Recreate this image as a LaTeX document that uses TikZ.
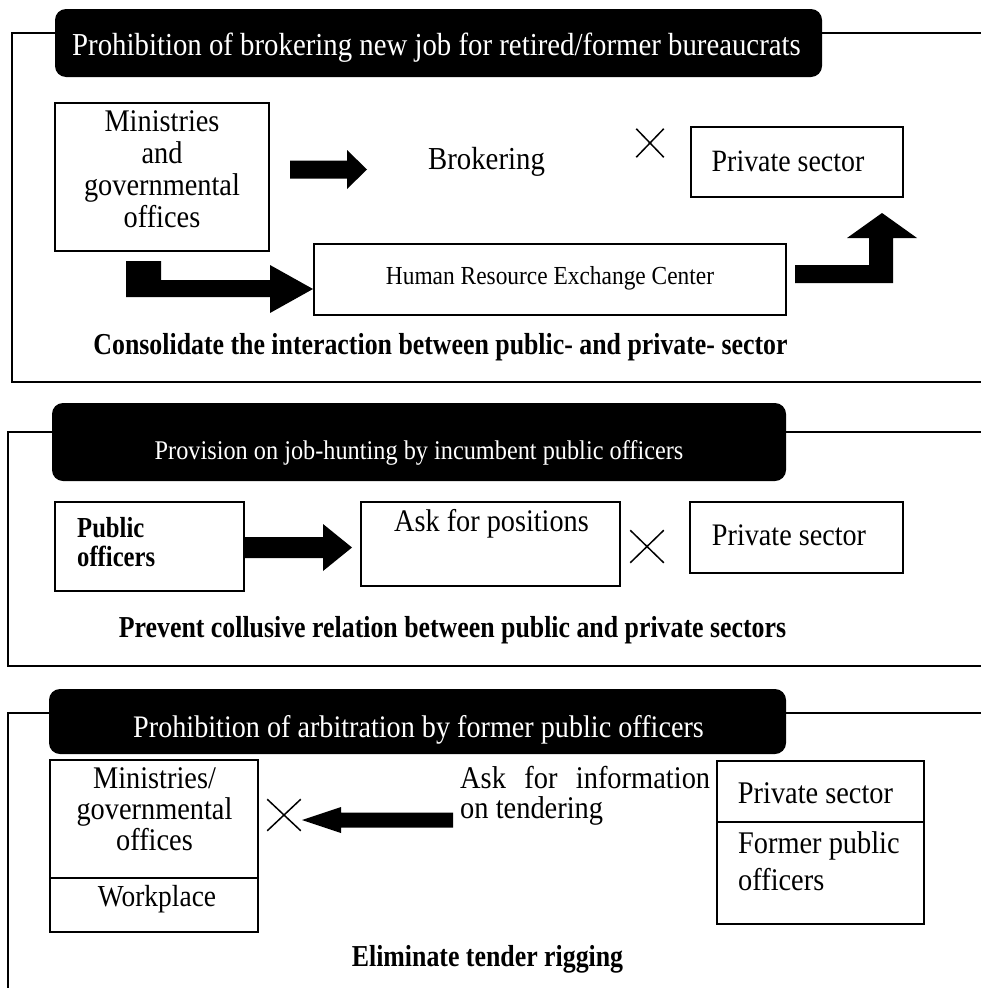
\documentclass[tikz,border=0pt]{standalone}
\usepackage{fontspec}
\setmainfont[FakeStretch=0.9,BoldFeatures={FakeStretch=0.85}]{Liberation Serif}
\usetikzlibrary{shapes.misc}
\newcommand{\setsz}[2]{\fontsize{#1}{#2}\selectfont}

\begin{document}
\begin{tikzpicture}[x=1pt,y=-1pt,
    frame/.style={line width=1.2pt},
    box/.style={draw,line width=1.4pt,inner sep=0pt},
    titlebox/.style={fill=black,rounded corners=11pt,inner sep=0pt},
    txt/.style={inner sep=0pt,anchor=base},
    mtxt/.style={inner sep=0pt,anchor=north},
    bold/.style={txt,font=\bfseries\setsz{30.4}{34}},
    blockarrow/.style={fill=black},
    nomark/.style={cross out,draw,line width=1.5pt,inner sep=0pt}]
  \useasboundingbox (0,0) rectangle (981,988);

  % frames round the three parts
  \draw[frame] (981,33) -| (12,382) -- (981,382);
  \draw[frame] (981,432) -| (8,666) -- (981,666);
  \draw[frame] (981,713) -| (8,988);

  % part 1
  \node[titlebox,minimum width=767pt,minimum height=68pt] (head1) at (438.5,43) {};
  \node[txt,text=white,font=\setsz{32}{38}] (head1t) at (436.5,55.6) {Prohibition of brokering new job for retired/former bureaucrats};
  \node[box,minimum width=214pt,minimum height=148pt] (min1) at (162,177) {};
  \node[mtxt,align=center,font=\setsz{31.5}{32}] (min1t) at (162,110.5) {Ministries\\and\\governmental\\offices};
  \fill[blockarrow] (290,160.5) -- (347,160.5) -- (347,150) -- (367,169.5) -- (347,189) -- (347,178.5) -- (290,178.5) -- cycle;
  \node[txt,font=\setsz{32}{38}] (brok) at (486.5,169.6) {Brokering};
  \node[nomark,minimum width=26pt,minimum height=27pt] (no1) at (650,143) {};
  \node[box,minimum width=212pt,minimum height=70pt] (priv1) at (797,162) {};
  \node[txt,font=\setsz{31}{36}] (priv1t) at (788,171.3) {Private sector};
  \fill[blockarrow] (126,261) -- (161,261) -- (161,280) -- (270,280) -- (270,265) -- (313,289) -- (270,313) -- (270,297) -- (126,297) -- cycle;
  \node[box,minimum width=472pt,minimum height=71pt] (hrec) at (550,279.5) {};
  \node[txt,font=\setsz{26}{30}] (hrect) at (550,284.6) {Human Resource Exchange Center};
  \fill[blockarrow] (795,265) -- (869,265) -- (869,238) -- (847,238) -- (882,213) -- (917,238) -- (893,238) -- (893,283) -- (795,283) -- cycle;
  \node[bold] (goal1) at (440.5,354.5) {Consolidate the interaction between public- and private- sector};

  % part 2
  \node[titlebox,minimum width=734pt,minimum height=78pt] (head2) at (419,442) {};
  \node[txt,text=white,font=\setsz{27}{32}] (head2t) at (419,459.9) {Provision on job-hunting by incumbent public officers};
  \node[box,minimum width=189pt,minimum height=89pt] (pub) at (149.5,546.5) {};
  \node[mtxt,anchor=north west,align=left,font=\bfseries\setsz{29}{28.5}] (pubt) at (77,517.5) {Public\\officers};
  \fill[blockarrow] (244,537) -- (323,537) -- (323,524) -- (352,547.5) -- (323,571) -- (323,558) -- (244,558) -- cycle;
  \node[box,minimum width=259pt,minimum height=84pt] (ask) at (490.5,544) {};
  \node[txt,font=\setsz{31.4}{36}] (askt) at (491.5,531) {Ask for positions};
  \node[nomark,minimum width=32pt,minimum height=31pt] (no2) at (647,546.5) {};
  \node[box,minimum width=213pt,minimum height=71pt] (priv2) at (796.5,537.5) {};
  \node[txt,font=\setsz{31.3}{36}] (priv2t) at (789,545.5) {Private sector};
  \node[bold] (goal2) at (452.5,637.5) {Prevent collusive relation between public and private sectors};

  % part 3
  \node[titlebox,minimum width=737pt,minimum height=65pt] (head3) at (417.5,721.5) {};
  \node[txt,text=white,font=\setsz{31.3}{36}] (head3t) at (418.5,737) {Prohibition of arbitration by former public officers};
  \node[box,minimum width=208pt,minimum height=118pt] (min3) at (154,819) {};
  \node[box,minimum width=208pt,minimum height=54pt] (work) at (154,905) {};
  \node[mtxt,align=center,font=\setsz{31.5}{31}] (min3t) at (154.5,767) {Ministries/\\governmental\\offices};
  \node[txt,font=\setsz{30.5}{36}] (workt) at (157,906) {Workplace};
  \node[nomark,minimum width=32pt,minimum height=30pt] (no3) at (284,815) {};
  \fill[blockarrow] (302,820) -- (341,807) -- (341,812.5) -- (453,812.5) -- (453,827.5) -- (341,827.5) -- (341,833) -- cycle;
  \node[mtxt,anchor=north west,align=left,font=\setsz{31.6}{30}] (askinfo) at (460,766.5) {\makebox[250pt][s]{Ask for information}\\on tendering};
  \node[box,minimum width=207pt,minimum height=61pt] (priv3) at (820.5,791.5) {};
  \node[txt,font=\setsz{31.5}{36}] (priv3t) at (815.5,803) {Private sector};
  \node[box,minimum width=207pt,minimum height=102pt] (former) at (820.5,873) {};
  \node[mtxt,anchor=north west,align=left,font=\setsz{31.5}{37}] (formert) at (738,831.5) {Former public\\officers};
  \node[bold] (goal3) at (487.5,966.5) {Eliminate tender rigging};
\end{tikzpicture}
\end{document}
